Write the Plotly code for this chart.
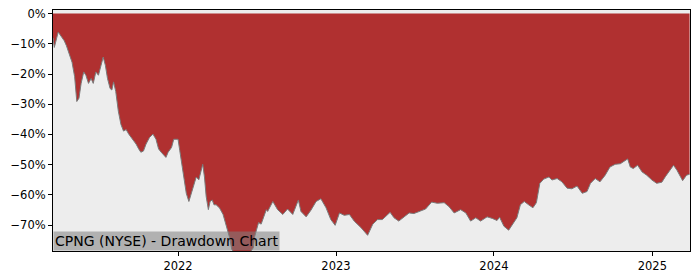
import plotly.graph_objects as go

dates = [
    "2021-03-18", "2021-03-21", "2021-03-30", "2021-04-05", "2021-04-13", "2021-04-18", "2021-04-25",
    "2021-05-01", "2021-05-07", "2021-05-12", "2021-05-17", "2021-05-22", "2021-05-28", "2021-06-02",
    "2021-06-08", "2021-06-14", "2021-06-19", "2021-06-25", "2021-07-01", "2021-07-07", "2021-07-12",
    "2021-07-17", "2021-07-22", "2021-07-28", "2021-08-01", "2021-08-05", "2021-08-10", "2021-08-16",
    "2021-08-22", "2021-08-28", "2021-09-03", "2021-09-09", "2021-09-18", "2021-09-26", "2021-10-02",
    "2021-10-07", "2021-10-13", "2021-10-19", "2021-10-27", "2021-11-04", "2021-11-11", "2021-11-17",
    "2021-11-23", "2021-11-27", "2021-12-04", "2021-12-09", "2021-12-17", "2021-12-22", "2022-01-01",
    "2022-01-05", "2022-01-10", "2022-01-15", "2022-01-20", "2022-01-26", "2022-02-01", "2022-02-07",
    "2022-02-12", "2022-02-18", "2022-02-24", "2022-02-27", "2022-03-03", "2022-03-07", "2022-03-12",
    "2022-03-16", "2022-03-21", "2022-03-25", "2022-03-30", "2022-04-07", "2022-04-15", "2022-04-20",
    "2022-04-26", "2022-04-30", "2022-05-05", "2022-05-12", "2022-05-23", "2022-06-04", "2022-06-15",
    "2022-06-24", "2022-06-27", "2022-07-01", "2022-07-06", "2022-07-12", "2022-07-18", "2022-07-24",
    "2022-07-27", "2022-08-08", "2022-08-19", "2022-08-31", "2022-09-11", "2022-09-23", "2022-10-06",
    "2022-10-12", "2022-10-24", "2022-11-04", "2022-11-16", "2022-11-27", "2022-12-09", "2022-12-20",
    "2022-12-30", "2023-01-09", "2023-01-20", "2023-02-01", "2023-02-12", "2023-02-28", "2023-03-15",
    "2023-03-27", "2023-04-07", "2023-04-18", "2023-05-06", "2023-05-15", "2023-05-26", "2023-06-11",
    "2023-06-19", "2023-06-30", "2023-07-12", "2023-07-27", "2023-08-10", "2023-08-23", "2023-09-08",
    "2023-09-19", "2023-10-01", "2023-10-16", "2023-10-28", "2023-11-08", "2023-11-20", "2023-12-01",
    "2023-12-13", "2023-12-16", "2023-12-28", "2024-01-08", "2024-01-14", "2024-01-24", "2024-02-04",
    "2024-02-16", "2024-02-23", "2024-03-02", "2024-03-11", "2024-03-21", "2024-03-31", "2024-04-08",
    "2024-04-16", "2024-04-25", "2024-05-07", "2024-05-14", "2024-05-26", "2024-06-06", "2024-06-18",
    "2024-06-29", "2024-07-11", "2024-07-23", "2024-08-03", "2024-08-11", "2024-08-19", "2024-08-22",
    "2024-09-02", "2024-09-14", "2024-09-25", "2024-10-07", "2024-10-19", "2024-10-30", "2024-11-05",
    "2024-11-11", "2024-11-18", "2024-11-28", "2024-12-08", "2024-12-19", "2024-12-31", "2025-01-11",
    "2025-01-23", "2025-01-31", "2025-02-11", "2025-02-19", "2025-02-27", "2025-03-06", "2025-03-12",
    "2025-03-21", "2025-03-28",
]

drawdown_pct = [
    -8.0, -11.2, -6.1, -7.4, -9.0, -10.6, -13.3,
    -16.1, -20.9, -29.1, -28.0, -23.1, -19.3, -20.4,
    -23.1, -21.5, -23.1, -19.3, -20.4, -17.1, -14.4,
    -17.1, -21.5, -24.8, -25.3, -22.6, -25.8, -32.3,
    -36.7, -38.9, -38.4, -39.9, -41.6, -43.2, -44.8,
    -45.9, -45.5, -43.2, -41.0, -39.9, -41.6, -44.8,
    -45.9, -46.4, -47.6, -45.9, -44.3, -41.6, -41.6,
    -45.4, -49.7, -55.1, -59.5, -62.2, -59.5, -56.2,
    -54.1, -55.0, -51.9, -49.9, -54.1, -60.6, -64.9,
    -62.2, -61.7, -63.3, -63.3, -64.4, -66.5, -69.2,
    -72.5, -74.1, -78.0, -79.5, -79.0, -80.0, -79.3,
    -77.5, -73.8, -71.4, -69.2, -69.7, -67.1, -64.9,
    -65.5, -62.2, -64.9, -66.5, -64.7, -66.5, -61.7,
    -65.5, -67.3, -65.1, -62.2, -61.3, -64.3, -68.2,
    -70.1, -66.0, -66.8, -66.5, -68.7, -70.9, -73.4,
    -69.7, -68.2, -68.2, -65.8, -67.6, -68.7, -67.1,
    -66.0, -66.2, -65.5, -64.7, -62.4, -62.8, -62.6,
    -63.9, -66.0, -64.9, -66.0, -68.7, -67.6, -68.7,
    -67.6, -67.3, -67.8, -68.5, -67.4, -70.4, -71.7,
    -69.2, -67.6, -63.3, -62.2, -63.3, -64.3, -62.6,
    -56.2, -54.8, -54.1, -55.1, -54.6, -55.7, -57.8,
    -58.0, -57.1, -59.5, -58.9, -56.2, -55.0, -54.6,
    -55.7, -53.5, -50.8, -49.9, -49.7, -48.6, -48.1,
    -50.8, -51.3, -50.2, -52.4, -53.5, -55.1, -56.2,
    -55.8, -54.0, -51.9, -50.2, -51.9, -54.0, -55.3,
    -53.5, -53.2,
]

y_ticks = [0, -10, -20, -30, -40, -50, -60, -70]
y_tick_labels = ["0%", "\u221210%", "\u221220%", "\u221230%", "\u221240%", "\u221250%", "\u221260%", "\u221270%"]
x_ticks = ["2022-01-01", "2023-01-01", "2024-01-01", "2025-01-01"]
x_tick_labels = ["2022", "2023", "2024", "2025"]
title_text = "CPNG (NYSE) - Drawdown Chart"

fig = go.Figure()
fig.add_trace(go.Scatter(
    x=dates, y=drawdown_pct, mode="lines",
    line=dict(color="#7a7a7a", width=1),
    fill="tozeroy", fillcolor="#B03030",
    hoverinfo="x+y", showlegend=False,
))

fig.update_layout(
    width=700, height=280,
    margin=dict(l=53, r=10, t=7, b=28),
    paper_bgcolor="white", plot_bgcolor="#EDEDED",
    font=dict(family="DejaVu Sans", size=11.5, color="black"),
    showlegend=False,
    annotations=[dict(
        text=title_text, xref="paper", yref="paper", x=0, y=0,
        xanchor="left", yanchor="bottom", showarrow=False,
        font=dict(family="DejaVu Sans", size=14, color="black"),
        bgcolor="rgba(128,128,128,0.55)", borderpad=1,
    )],
)
fig.update_xaxes(
    range=["2021-03-18", "2025-03-29"], tickvals=x_ticks, ticktext=x_tick_labels,
    showgrid=False, zeroline=False, showline=True, linecolor="black", linewidth=1,
    mirror=True, ticks="outside", ticklen=4, tickcolor="black",
)
fig.update_yaxes(
    range=[-78.6, 1.2], tickvals=y_ticks, ticktext=y_tick_labels,
    showgrid=False, zeroline=False, showline=True, linecolor="black", linewidth=1,
    mirror=True, ticks="outside", ticklen=4, tickcolor="black",
)

fig.write_html("out.html")
